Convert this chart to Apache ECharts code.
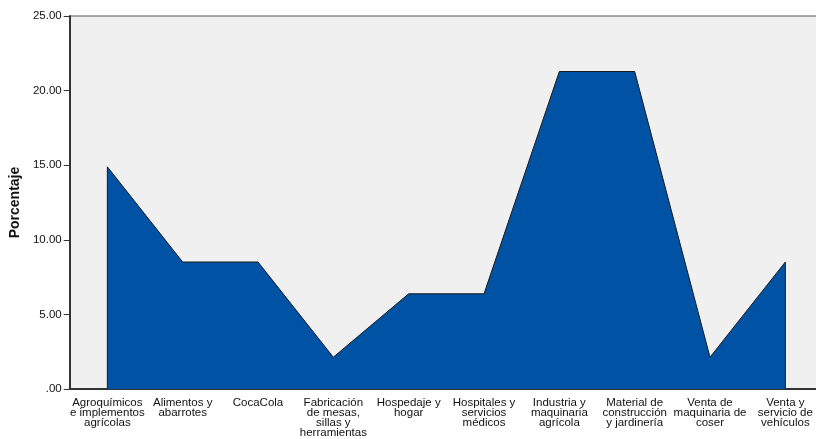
<!DOCTYPE html>
<html>
<head>
<meta charset="utf-8">
<script src="https://cdn.jsdelivr.net/npm/echarts@6/dist/echarts.min.js"></script>
<style>
  html, body { margin: 0; padding: 0; background: #fff; overflow: hidden; }
  #chart { width: 830px; height: 439px; }
</style>
</head>
<body>
<div id="chart"></div>
<script>
// categories and percentages
var categories = [
  'Agroquímicos\ne implementos\nagrícolas',
  'Alimentos y\nabarrotes',
  'CocaCola',
  'Fabricación\nde mesas,\nsillas y\nherramientas',
  'Hospedaje y\nhogar',
  'Hospitales y\nservicios\nmédicos',
  'Industria y\nmaquinaria\nagrícola',
  'Material de\nconstrucción\ny jardinería',
  'Venta de\nmaquinaria de\ncoser',
  'Venta y\nservicio de\nvehículos'
]
var porcentaje = [14.89, 8.51, 8.51, 2.13, 6.38, 6.38, 21.28, 21.28, 2.13, 8.51]
var yTicks = { min: 0, max: 25, interval: 5 }

var chart = echarts.init(document.getElementById('chart'))

var last = categories.length - 1

chart.setOption({
  backgroundColor: '#ffffff',
  animation: false,
  textStyle: { fontFamily: 'Liberation Sans, Arial, sans-serif' },
  // plot runs past the right edge of the window, like the original
  grid: {
    left: 67,
    right: 7,
    top: 16,
    bottom: 49,
    show: true,
    backgroundColor: '#f0f0f0',
    borderColor: '#555555',
    borderWidth: 1
  },
  xAxis: {
    type: 'category',
    data: categories,
    boundaryGap: true,
    axisLine: { lineStyle: { color: '#333333', width: 2 } },
    axisTick: { alignWithLabel: true, length: 6, lineStyle: { color: '#333333' } },
    axisLabel: {
      interval: 0,
      margin: 9,
      fontSize: 11.5,
      lineHeight: 10,
      color: '#111111'
    }
  },
  yAxis: {
    type: 'value',
    min: yTicks.min,
    max: yTicks.max,
    interval: yTicks.interval,
    name: 'Porcentaje',
    nameLocation: 'middle',
    nameGap: 36,
    nameTextStyle: { fontSize: 14, fontWeight: 'bold', color: '#111111' },
    axisLine: { show: true, lineStyle: { color: '#333333', width: 2 } },
    axisTick: { show: true, length: 6, lineStyle: { color: '#333333' } },
    axisLabel: {
      margin: 8,
      fontSize: 11.5,
      color: '#111111',
      formatter: function (v) { return v === 0 ? '.00' : v.toFixed(2) }
    },
    splitLine: { show: false }
  },
  series: [
    {
      name: 'Porcentaje',
      type: 'line',
      data: porcentaje,
      symbol: 'none',
      lineStyle: { color: '#1a1a1a', width: 1 },
      areaStyle: { color: '#0052a5', opacity: 1 },
      z: 2
    },
    {
      type: 'line',
      data: [[categories[0], 0], [categories[0], porcentaje[0]]],
      symbol: 'none',
      lineStyle: { color: '#1a1a1a', width: 1 },
      z: 3
    },
    {
      type: 'line',
      data: [[categories[last], 0], [categories[last], porcentaje[last]]],
      symbol: 'none',
      lineStyle: { color: '#1a1a1a', width: 1 },
      z: 3
    }
  ]
})
</script>
</body>
</html>
